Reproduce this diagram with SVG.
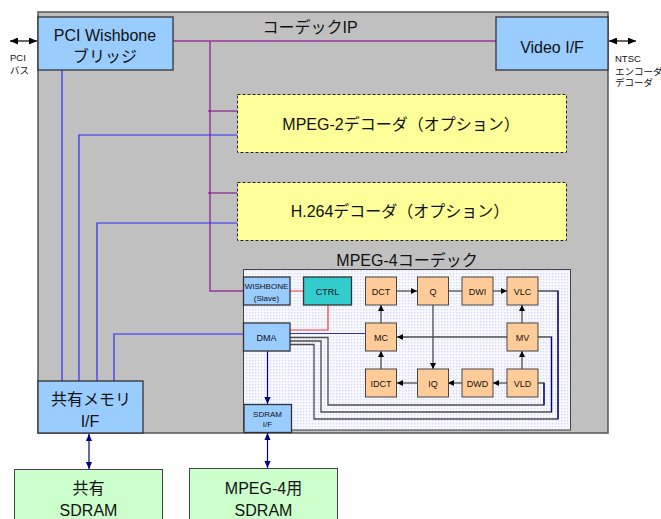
<svg xmlns="http://www.w3.org/2000/svg" width="661" height="519" viewBox="0 0 661 519">
<style>
text{font-family:"Liberation Sans","Noto Sans CJK JP",sans-serif;fill:#111;text-anchor:middle}
.big{font-size:16px}
.sm{font-size:9px}
.xs{font-size:8px}
.lbl{font-size:9.5px;text-anchor:start}
.bluebox{fill:#99ccff;stroke:#333;stroke-width:1.3}
.opt{fill:#ffff99;stroke:#222;stroke-width:1;stroke-dasharray:3,2}
.sd{fill:#ccffcc;stroke:#444;stroke-width:1}
.or{fill:#ffcc99;stroke:#444;stroke-width:1}
.pur{stroke:#993399;stroke-width:1.5;fill:none}
.pur2{stroke:#800080;stroke-width:1.2;fill:none}
.blu{stroke:#2a2aff;stroke-width:1.2;fill:none}
.navy{stroke:#000080;stroke-width:1.2;fill:none}
.gry{stroke:#4d4d4d;stroke-width:1.3;fill:none}
.red{stroke:#ff3333;stroke-width:1.2;fill:none}
</style>
<defs>
<pattern id="dots" width="3" height="3" patternUnits="userSpaceOnUse">
<rect width="3" height="3" fill="#f8f8ff"/>
<rect x="0" y="0" width="1.3" height="1.3" fill="#d3d8f5"/>
</pattern>
<marker id="ab" viewBox="0 0 8 7" refX="8" refY="3.5" markerWidth="8" markerHeight="7" markerUnits="userSpaceOnUse" orient="auto-start-reverse"><path d="M0,0L8,3.5L0,7z" fill="#000"/></marker>
<marker id="an" viewBox="0 0 8 7" refX="8" refY="3.5" markerWidth="7" markerHeight="7" markerUnits="userSpaceOnUse" orient="auto-start-reverse"><path d="M0,0L8,3.5L0,7z" fill="#000080"/></marker>
<marker id="as" viewBox="0 0 6 6" refX="6" refY="3" markerWidth="6" markerHeight="6" markerUnits="userSpaceOnUse" orient="auto"><path d="M0,0L6,3L0,6z" fill="#000"/></marker>
</defs>

<g id="codec-ip">
<rect x="38" y="12" width="570" height="421" fill="#c0c0c0" stroke="#555" stroke-width="1.5"/>
<text class="big" x="310" y="33">コーデックIP</text>
</g>

<g id="mpeg4-region">
<rect x="243.5" y="269.5" width="327" height="160.5" fill="url(#dots)" stroke="#444" stroke-width="1"/>
<text class="big" x="407" y="266">MPEG-4コーデック</text>
</g>

<g id="connectors">
<path class="pur" d="M173,41H496M210,41V291H243"/>
<path class="pur2" d="M208,111H237M208,193H237"/>
<path class="blu" d="M62,70V381M79,381V135H237M97,381V223H237M114,381V334H243"/>
<line x1="10" y1="41" x2="37" y2="41" stroke="#000" stroke-width="1.2" marker-start="url(#ab)" marker-end="url(#ab)"/>
<line x1="609" y1="41" x2="636" y2="41" stroke="#000" stroke-width="1.2" marker-start="url(#ab)" marker-end="url(#ab)"/>
<line x1="89" y1="434" x2="89" y2="469" class="navy" marker-start="url(#an)" marker-end="url(#an)"/>
<line x1="267.5" y1="433" x2="267.5" y2="468" class="navy" marker-start="url(#an)" marker-end="url(#an)"/>
<line x1="267.5" y1="351" x2="267.5" y2="404" class="navy" marker-end="url(#an)"/>
<path class="red" d="M290,291H303M328,305V330H290"/>
<path d="M290,333.5H365" stroke="#333399" stroke-width="1.2" fill="none"/>
<path class="gry" d="M290,337.5H328V405H544V383H538"/>
<path class="gry" d="M290,341H321V412H551.5V337H538"/>
<path class="gry" d="M290,344.5H314V419H558V291H538"/>
<path class="navy" d="M544,405V383M551.5,412V337M558,419V291"/>
<line class="gry" x1="397" y1="291" x2="417" y2="291" marker-end="url(#as)"/>
<line class="gry" x1="448" y1="291" x2="462" y2="291"/>
<line class="gry" x1="493" y1="291" x2="507" y2="291" marker-end="url(#as)"/>
<line class="gry" x1="381" y1="323" x2="381" y2="305" marker-end="url(#as)"/>
<line class="gry" x1="381" y1="369" x2="381" y2="351" marker-end="url(#as)"/>
<line class="gry" x1="507" y1="337" x2="397" y2="337" marker-end="url(#as)"/>
<line class="gry" x1="433" y1="305" x2="433" y2="369" marker-end="url(#as)"/>
<line class="gry" x1="522" y1="323" x2="522" y2="305" marker-end="url(#as)"/>
<line class="gry" x1="522" y1="369" x2="522" y2="351" marker-end="url(#as)"/>
<line class="gry" x1="507" y1="383" x2="493" y2="383" marker-end="url(#as)"/>
<line class="gry" x1="462" y1="383" x2="448" y2="383" marker-end="url(#as)"/>
<line class="gry" x1="417" y1="383" x2="397" y2="383" marker-end="url(#as)"/>
</g>

<g id="pci-bridge">
<rect class="bluebox" x="38" y="17" width="135" height="53"/>
<text class="big" x="105" y="41">PCI Wishbone</text>
<text class="big" x="105" y="62">ブリッジ</text>
</g>
<g id="pci-label">
<text class="lbl" x="10" y="61">PCI</text>
<text class="lbl" x="10" y="74">バス</text>
</g>

<g id="video-if">
<rect class="bluebox" x="496" y="17" width="112" height="53"/>
<text class="big" x="552" y="53">Video I/F</text>
</g>
<g id="ntsc-label">
<text class="lbl" x="615" y="62">NTSC</text>
<text class="lbl" x="615" y="75">エンコーダ</text>
<text class="lbl" x="615" y="86">デコーダ</text>
</g>

<g id="mpeg2-dec">
<rect class="opt" x="237.5" y="94.5" width="329" height="58"/>
<text class="big" x="401" y="130">MPEG-2デコーダ（オプション）</text>
</g>

<g id="h264-dec">
<rect class="opt" x="237.5" y="182.5" width="329" height="58"/>
<text class="big" x="400" y="217">H.264デコーダ（オプション）</text>
</g>

<g id="shared-mem-if">
<rect class="bluebox" x="38" y="381" width="105" height="52"/>
<text class="big" x="91" y="405">共有メモリ</text>
<text class="big" x="90" y="427">I/F</text>
</g>

<g id="shared-sdram">
<rect class="sd" x="14.5" y="469.5" width="148" height="60"/>
<text class="big" x="88.5" y="494">共有</text>
<text class="big" x="88.5" y="516">SDRAM</text>
</g>

<g id="mpeg4-sdram">
<rect class="sd" x="189.5" y="468.5" width="148" height="60"/>
<text class="big" x="263.5" y="494">MPEG-4用</text>
<text class="big" x="263.5" y="516">SDRAM</text>
</g>

<g id="wishbone-slave">
<rect class="bluebox" x="243.5" y="277" width="46.5" height="28"/>
<text class="xs" x="266.5" y="289">WISHBONE</text>
<text class="xs" x="266.5" y="301">(Slave)</text>
</g>
<g id="ctrl">
<rect x="303.5" y="277" width="48" height="28" fill="#33cccc" stroke="#333" stroke-width="1.3"/>
<text class="sm" x="327.5" y="294.5">CTRL</text>
</g>
<g id="dma">
<rect class="bluebox" x="243.5" y="323" width="46.5" height="28"/>
<text class="sm" x="266.5" y="340.5">DMA</text>
</g>
<g id="sdram-if">
<rect class="bluebox" x="244" y="404.5" width="47.5" height="28"/>
<text class="xs" x="267.5" y="416.5">SDRAM</text>
<text class="xs" x="267.5" y="427">I/F</text>
</g>

<g id="dct"><rect class="or" x="365.5" y="277" width="31" height="28"/><text class="sm" x="381" y="294.5">DCT</text></g>
<g id="q"><rect class="or" x="417.5" y="277" width="31" height="28"/><text class="sm" x="433" y="294.5">Q</text></g>
<g id="dwi"><rect class="or" x="462" y="277" width="31" height="28"/><text class="sm" x="477.5" y="294.5">DWI</text></g>
<g id="vlc"><rect class="or" x="507" y="277" width="31" height="28"/><text class="sm" x="522.5" y="294.5">VLC</text></g>
<g id="mc"><rect class="or" x="365.5" y="323" width="31" height="28"/><text class="sm" x="381" y="340.5">MC</text></g>
<g id="mv"><rect class="or" x="507" y="323" width="31" height="28"/><text class="sm" x="522.5" y="340.5">MV</text></g>
<g id="idct"><rect class="or" x="365.5" y="369" width="31" height="28"/><text class="sm" x="381" y="386.5">IDCT</text></g>
<g id="iq"><rect class="or" x="417.5" y="369" width="31" height="28"/><text class="sm" x="433" y="386.5">IQ</text></g>
<g id="dwd"><rect class="or" x="462" y="369" width="31" height="28"/><text class="sm" x="477.5" y="386.5">DWD</text></g>
<g id="vld"><rect class="or" x="507" y="369" width="31" height="28"/><text class="sm" x="522.5" y="386.5">VLD</text></g>
</svg>
